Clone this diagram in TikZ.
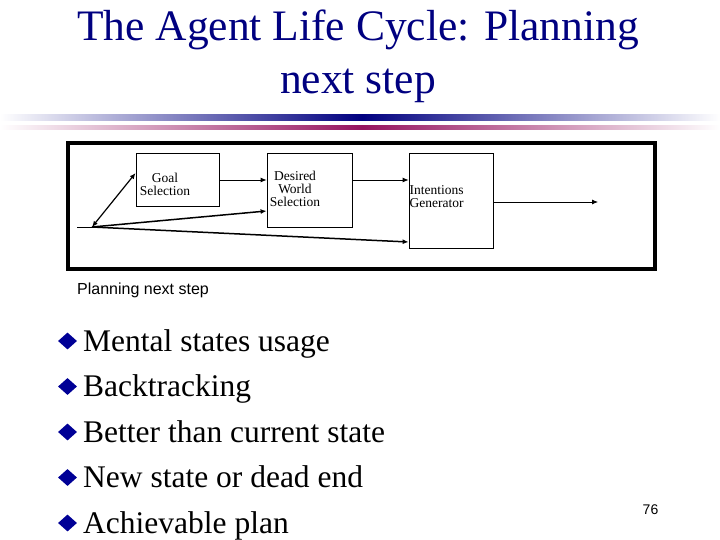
\documentclass[tikz,border=0pt]{standalone}
\usepackage{fontspec}
\setmainfont{Liberation Serif}
\setsansfont{Liberation Sans}
\usepackage{xcolor}
\usepackage{tikz}
\usetikzlibrary{arrows.meta,shapes.geometric}
\definecolor{titleblue}{RGB}{0,0,128}
\definecolor{bandred}{RGB}{150,20,95}
\definecolor{bulletblue}{RGB}{0,0,150}

\begin{document}
\begin{tikzpicture}[x=1pt,y=-1pt,>={Latex[length=6pt,width=5pt]},
  box/.style={draw,line width=0.8pt,inner sep=0pt},
  lbl/.style={font=\fontsize{13.5}{13}\selectfont,inner sep=0pt},
  arr/.style={->,line width=0.8pt},
  bolder/.style={->,line width=1.5pt},
  item/.style={anchor=base west,inner sep=0pt,font=\fontsize{31.5}{36}\selectfont},
  bul/.style={diamond,fill=bulletblue,inner sep=0pt,minimum width=19pt,minimum height=17pt}]
  \useasboundingbox (0,0) rectangle (720,540);
  \node[anchor=base,text=titleblue,font=\fontsize{43.5}{50}\selectfont,inner sep=0pt] (title1) at (358,41) {The Agent Life Cycle: Planning};
  \node[anchor=base,text=titleblue,font=\fontsize{43.5}{50}\selectfont,inner sep=0pt] (title2) at (358,94) {next step};
  \shade[left color=white,right color=titleblue] (0,115) rectangle (362,121);
  \shade[left color=titleblue,right color=white] (362,115) rectangle (720,121);
  \shade[left color=white,right color=bandred] (0,126) rectangle (362,130);
  \shade[left color=bandred,right color=white] (362,126) rectangle (720,130);
  \draw[line width=3.5pt] (68,143) rectangle (655,269);
  \node[box,minimum width=83pt,minimum height=53pt] (gs) at (177.5,179.5) {};
  \node[box,minimum width=85pt,minimum height=74pt] (dws) at (309.5,190) {};
  \node[box,minimum width=84pt,minimum height=95pt] (ig) at (451,200.5) {};
  \node[lbl,align=center] (gstxt) at (165,184) {Goal\\Selection};
  \node[lbl,align=center] (dwstxt) at (295,189) {Desired\\World\\Selection};
  \node[lbl,align=left,anchor=west] (igtxt) at (409.5,197) {Intentions\\Generator};
  \coordinate (in) at (77,227);
  \coordinate (split) at (92,227);
  \coordinate (out) at (598,202);
  \draw[line width=0.8pt] (in) -- (split);
  \draw[{Latex[length=6pt,width=5pt]}-{Latex[length=6pt,width=5pt]},line width=1.2pt] (split) -- (gs.west |- 0,173);
  \draw[arr] (gs.east |- 0,180) -- (dws.west |- 0,180);
  \draw[arr] (dws.east |- 0,180) -- (ig.west |- 0,180);
  \draw[bolder] (split) -- (dws.west |- 0,211);
  \draw[bolder] (split) -- (ig.west |- 0,242);
  \draw[arr] (ig.east |- 0,202) -- (out);
  \node[anchor=base west,inner sep=0pt,font=\sffamily\fontsize{16}{18}\selectfont] (cap) at (77,294) {Planning next step};
  \foreach \t [count=\i] in {Mental states usage,Backtracking,Better than current state,New state or dead end,Achievable plan}{
    \node[bul] (b\i) at (67.5,{341+45.5*(\i-1)}) {};
    \node[item] (t\i) at (83,{351+45.5*(\i-1)}) {\t};
  }
  \node[font=\sffamily\fontsize{14}{16}\selectfont,inner sep=0pt] (page) at (650.5,510) {76};
\end{tikzpicture}
\end{document}
